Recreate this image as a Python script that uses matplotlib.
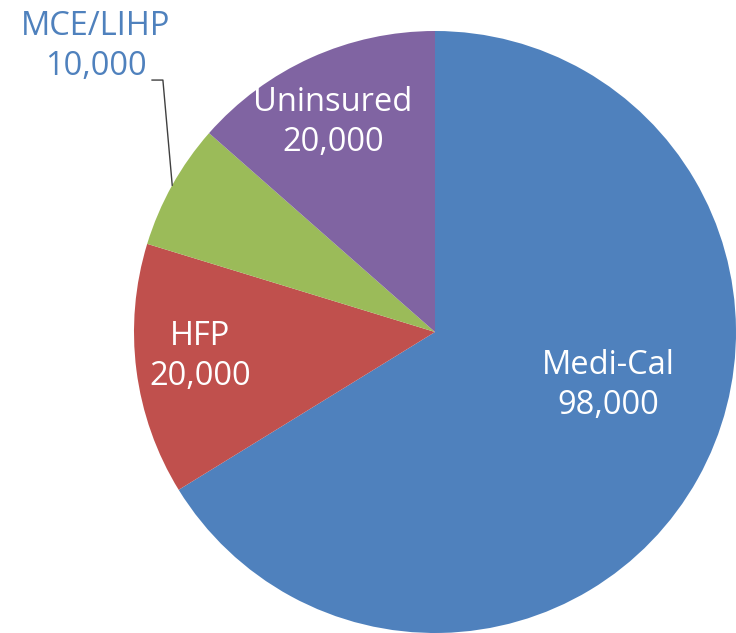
import numpy as np
import matplotlib
matplotlib.use("Agg")
import matplotlib.pyplot as plt

categories = ["Medi-Cal", "HFP", "MCE/LIHP", "Uninsured"]
values = [98000, 20000, 10000, 20000]
value_labels = ["98,000", "20,000", "10,000", "20,000"]
colors = ["#4F81BD", "#C0504D", "#9BBB59", "#8064A2"]

W, H = 736, 633
fig = plt.figure(figsize=(W / 100, H / 100), dpi=100)
cx, cy, R = 435, 332, 301
ax = fig.add_axes([(cx - R) / W, (H - cy - R) / H, 2 * R / W, 2 * R / H])
ax.set_aspect("equal")
ax.axis("off")

wedges, _ = ax.pie(values, colors=colors, startangle=90, counterclock=False,
                   radius=1, wedgeprops=dict(linewidth=0))
ax.set_xlim(-1, 1)
ax.set_ylim(-1, 1)

font = "Open Sans"
fs = 23.5
ls = 1.28
# label positions (relative to pie radius)
label_pos = {
    "Medi-Cal": (0.577, -0.179),
    "HFP": (-0.781, -0.080),
    "Uninsured": (-0.339, 0.695),
    "MCE/LIHP": (-1.128, 0.950),
}
for w, cat, vl in zip(wedges, categories, value_labels):
    x, y = label_pos[cat]
    col = "white" if cat != "MCE/LIHP" else "#4F81BD"
    ax.text(x, y, f"{cat}\n{vl}", ha="center", va="center", fontsize=fs,
            family=font, color=col, linespacing=ls, clip_on=False)
    if cat == "MCE/LIHP":
        th = np.deg2rad((w.theta1 + w.theta2) / 2)
        ex, ey = np.cos(th), np.sin(th)
        ax.plot([-0.940, -0.904, ex], [0.837, 0.837, ey], color="#404040",
                lw=1.0, clip_on=False)

fig.savefig("out.png", dpi=100)
